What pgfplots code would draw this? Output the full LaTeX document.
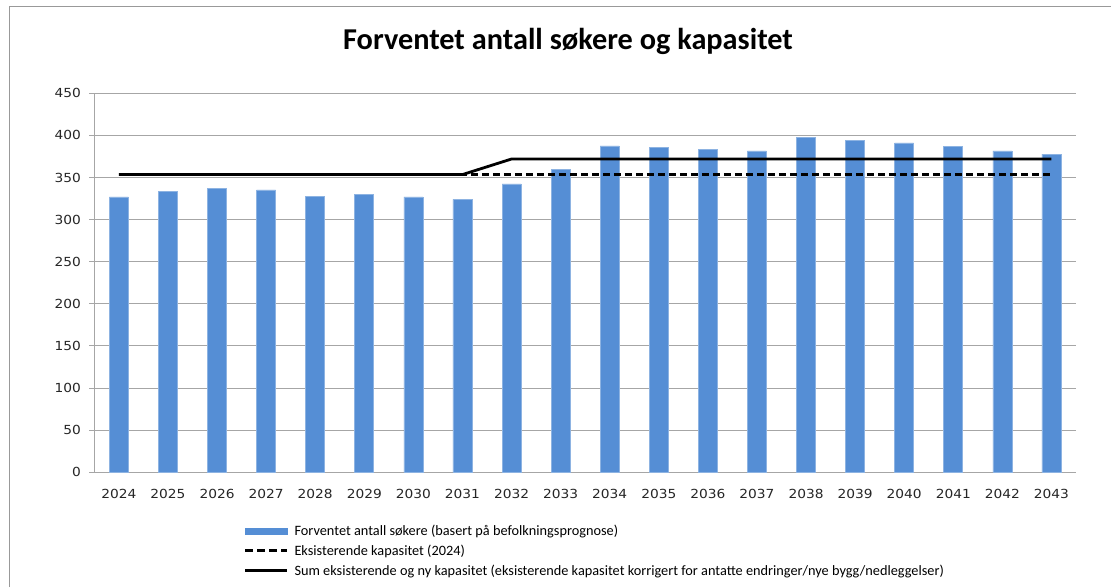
\documentclass[border=0pt]{standalone}
\usepackage{pgfplots}
\pgfplotsset{compat=1.18}
\usepackage{fontspec}
\setmainfont{Carlito}
\newfontfamily\tickfont[FakeStretch=1.1]{DejaVu Sans}
\newfontfamily\titlefont{Carlito}
\definecolor{barblue}{HTML}{558ED5}
\definecolor{baredge}{HTML}{8DB3E2}
\definecolor{gridgray}{HTML}{A6A6A6}
\begin{document}
\begin{tikzpicture}[x=1pt,y=1pt]
\path[use as bounding box] (0,0) rectangle (1111,587);
\draw[gray!80, line width=1.6pt] (9.5,0) -- (9.5,580.5) -- (1111,580.5);
\node[font=\titlefont\fontsize{30.3}{36}\selectfont\bfseries] at (568,546) {Forventet antall søkere og kapasitet};
\begin{axis}[
  at={(94.3pt,114.7pt)}, anchor=south west,
  scale only axis, width=981.7pt, height=379pt,
  xmin=-0.5, xmax=19.5, ymin=0, ymax=450,
  axis x line*=bottom, axis y line*=left,
  axis line style={gridgray, line width=1pt},
  ytick={0,50,...,450},
  ymajorgrids, grid style={gridgray, line width=1pt},
  xtick={0,...,19},
  xticklabels={2024,2025,2026,2027,2028,2029,2030,2031,2032,2033,2034,2035,2036,2037,2038,2039,2040,2041,2042,2043},
  minor xtick={-0.5,0.5,...,19.5},
  tick align=outside,
  major tick length=5pt, minor tick length=5pt,
  xtick style={draw=none},
  ytick style={gridgray, line width=1pt},
  minor x tick style={gridgray, line width=1pt},
  tick label style={font=\tickfont\fontsize{12.5}{14}\selectfont, text=black!85},
  /pgf/number format/assume math mode=true,
  xticklabel style={yshift=-8pt},
  yticklabel style={xshift=-5pt},
  legend style={at={(0.152,-0.133)}, anchor=north west, draw=none, fill=none,
    font=\fontsize{14.3}{17}\selectfont, row sep=4pt, inner sep=0pt,
    /tikz/every even column/.append style={column sep=2pt}},
  legend cell align=left,
]
\addplot[ybar, bar width=19pt, fill=barblue, draw=baredge, line width=0.6pt,
  legend image code/.code={\fill[barblue] (0pt,-3pt) rectangle (42pt,3pt);}]
 coordinates {(0,327) (1,333.5) (2,337.5) (3,335.3) (4,327.8) (5,329.8) (6,327) (7,324) (8,342.4) (9,359.5)
 (10,387.5) (11,385.6) (12,383.6) (13,381.6) (14,397.9) (15,393.9) (16,391.1) (17,386.8) (18,381.6) (19,377.7)};
\addlegendentry{\hspace{4pt}Forventet antall søkere (basert på befolkningsprognose)}
\addplot[black, line width=2.6pt, dash pattern=on 7pt off 4pt,
  legend image code/.code={\draw[black, line width=2.8pt, dash pattern=on 8pt off 4pt] (0pt,0pt) -- (42pt,0pt);}]
 coordinates {(0,353.5) (19,353.5)};
\addlegendentry{\hspace{4pt}Eksisterende kapasitet (2024)}
\addplot[black, line width=2.8pt, line join=round,
  legend image code/.code={\draw[black, line width=2.8pt] (0pt,0pt) -- (42pt,0pt);}]
 coordinates {(0,353.5) (1,353.5) (2,353.5) (3,353.5) (4,353.5) (5,353.5) (6,353.5) (7,353.5) (8,372) (9,372) (10,372) (11,372) (12,372) (13,372) (14,372) (15,372) (16,372) (17,372) (18,372) (19,372)};
\addlegendentry{\hspace{4pt}Sum eksisterende og ny kapasitet (eksisterende kapasitet korrigert for antatte endringer/nye bygg/nedleggelser)}
\end{axis}
\end{tikzpicture}
\end{document}
